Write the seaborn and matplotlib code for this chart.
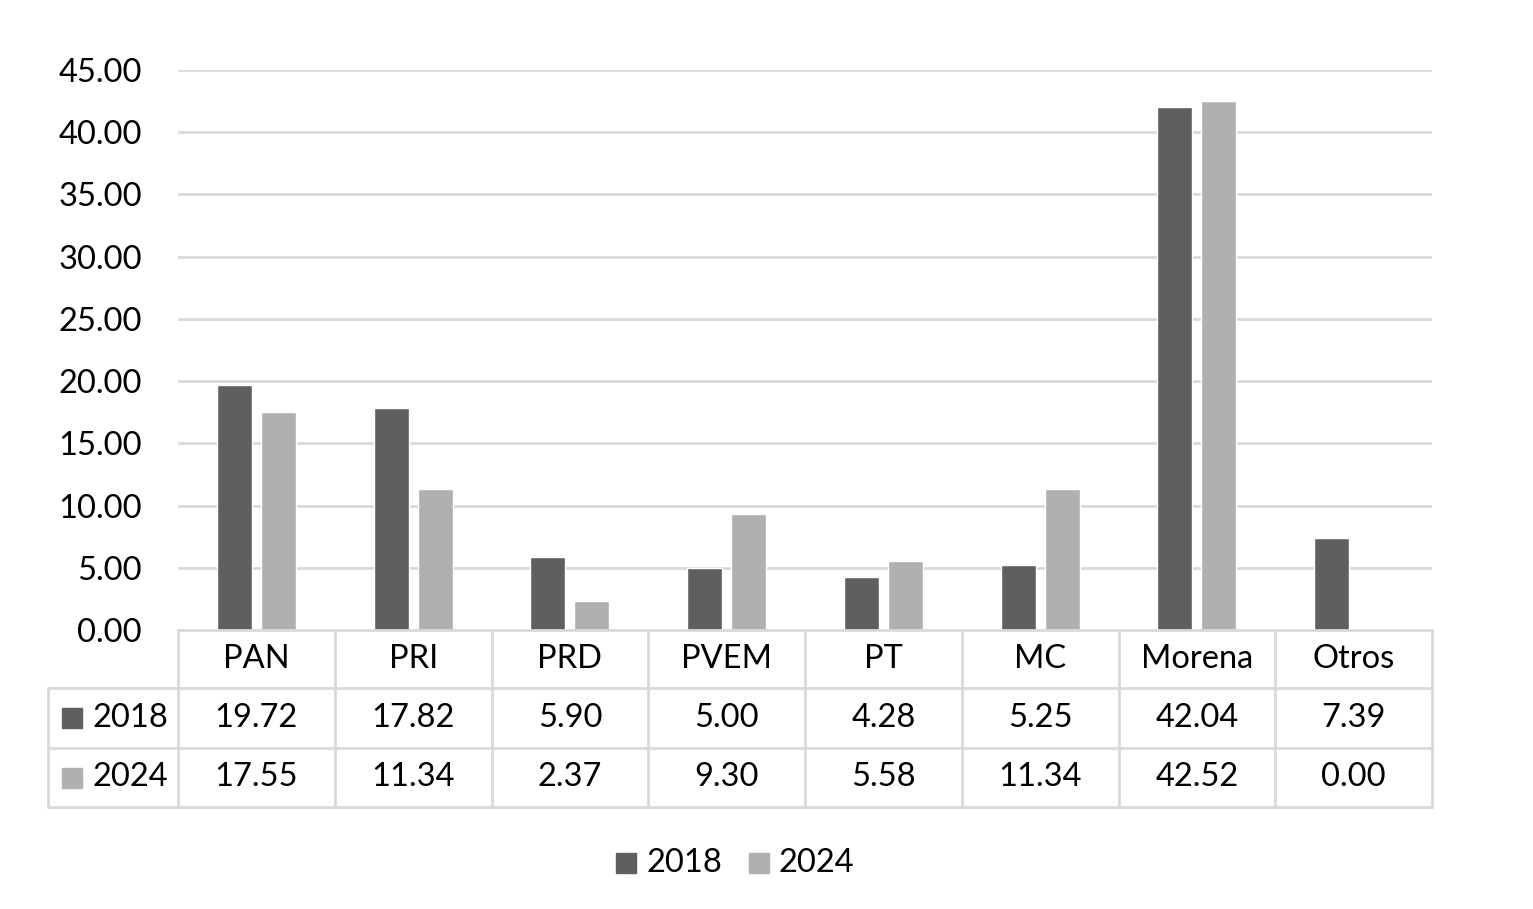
import matplotlib
matplotlib.use("Agg")
import matplotlib.pyplot as plt
import seaborn as sns
import pandas as pd
from matplotlib.patches import Rectangle
from matplotlib.lines import Line2D

parties = ["PAN", "PRI", "PRD", "PVEM", "PT", "MC", "Morena", "Otros"]
years = ["2018", "2024"]
v2018 = [19.72, 17.82, 5.90, 5.00, 4.28, 5.25, 42.04, 7.39]
v2024 = [17.55, 11.34, 2.37, 9.30, 5.58, 11.34, 42.52, 0.00]
yticks = [0, 5, 10, 15, 20, 25, 30, 35, 40, 45]

colors = {"2018": "#5f5f5f", "2024": "#b0b0b0"}
grid_c = "#d9d9d9"

df = pd.DataFrame({
    "party": parties * 2,
    "year": ["2018"] * len(parties) + ["2024"] * len(parties),
    "value": v2018 + v2024,
})

sns.set_theme(style="white")
plt.rcParams["font.family"] = ["Lato", "DejaVu Sans"]
plt.rcParams["text.color"] = "black"
plt.rcParams["ytick.color"] = "black"

W, H = 1533, 909
fig = plt.figure(figsize=(W / 100, H / 100), dpi=100)
L, R, T, B = 178, 1432, 70, 630
ax = fig.add_axes([L / W, 1 - B / H, (R - L) / W, (B - T) / H])

sns.barplot(data=df, x="party", y="value", hue="year", order=parties,
            hue_order=years, palette=colors, width=0.56, gap=0.2,
            saturation=1, ax=ax, legend=False, errorbar=None)

fs = 23.5
ax.set_ylim(0, 45)
ax.set_xlim(-0.5, len(parties) - 0.5)
ax.set_yticks(yticks)
ax.set_yticklabels([f"{t:.2f}" for t in yticks], fontsize=fs, color="black")
ax.set_xticks([])
ax.set_xlabel("")
ax.set_ylabel("")
for t in yticks[1:]:
    ax.axhline(t, color=grid_c, lw=2, zorder=0)
for s in ax.spines.values():
    s.set_visible(False)
ax.tick_params(axis="y", length=0, pad=26)
ax.set_axisbelow(True)

def fx(px):
    return px / W

def fy(py):
    return 1 - py / H

lw = 2
rows = [630, 688, 748, 807]
tl = 48
fig.add_artist(Line2D([fx(L), fx(R)], [fy(rows[0]), fy(rows[0])], color=grid_c, lw=lw))
for r in rows[1:]:
    fig.add_artist(Line2D([fx(tl), fx(R)], [fy(r), fy(r)], color=grid_c, lw=lw))
cw = (R - L) / len(parties)
for i in range(len(parties) + 1):
    x = L + i * cw
    fig.add_artist(Line2D([fx(x), fx(x)], [fy(rows[0]), fy(rows[3])], color=grid_c, lw=lw))
fig.add_artist(Line2D([fx(tl), fx(tl)], [fy(rows[1]), fy(rows[3])], color=grid_c, lw=lw))

for i, p in enumerate(parties):
    cx = L + (i + 0.5) * cw
    fig.text(fx(cx), fy((rows[0] + rows[1]) / 2), p, ha="center", va="center", fontsize=fs)
    fig.text(fx(cx), fy((rows[1] + rows[2]) / 2), f"{v2018[i]:.2f}", ha="center", va="center", fontsize=fs)
    fig.text(fx(cx), fy((rows[2] + rows[3]) / 2), f"{v2024[i]:.2f}", ha="center", va="center", fontsize=fs)

for j, y in enumerate(years):
    cy = (rows[j + 1] + rows[j + 2]) / 2
    fig.add_artist(Rectangle((fx(62), fy(cy + 10)), 20 / W, 20 / H, color=colors[y]))
    fig.text(fx(92), fy(cy), y, ha="left", va="center", fontsize=fs)

ly = 863
for x0, y in [(616, "2018"), (749, "2024")]:
    fig.add_artist(Rectangle((fx(x0), fy(ly + 10)), 20 / W, 20 / H, color=colors[y]))
    fig.text(fx(x0 + 30), fy(ly), y, ha="left", va="center", fontsize=fs)

fig.savefig("out.png", dpi=100, facecolor="white")
